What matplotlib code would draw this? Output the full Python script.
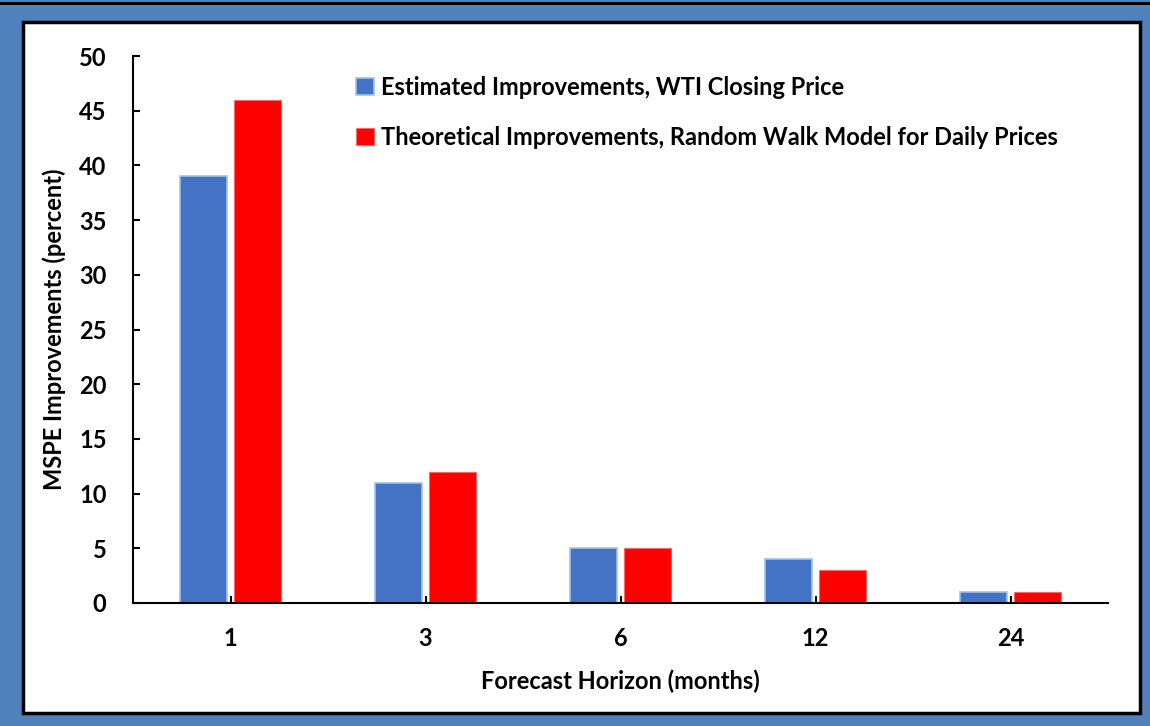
import numpy as np
import matplotlib.pyplot as plt
from matplotlib.patches import Rectangle

horizons = ["1", "3", "6", "12", "24"]
estimated = [39, 11, 5, 4, 1]
theoretical = [46, 12, 5, 3, 1]
labels = ["Estimated Improvements, WTI Closing Price",
          "Theoretical Improvements, Random Walk Model for Daily Prices"]

plt.rcParams['font.family'] = ['Lato', 'DejaVu Sans']
plt.rcParams['font.weight'] = 'bold'

fig = plt.figure(figsize=(11.5, 7.26), dpi=100)
fig.patch.set_facecolor('#4F81BD')

W, H = 1150, 726
# top black line of the frame
fig.patches.append(Rectangle((0, 1 - 5 / H), 1, 3 / H, transform=fig.transFigure,
                             facecolor='black', edgecolor='none', zorder=0))
# white inner panel
fig.patches.append(Rectangle((23 / W, 1 - 713 / H), (1140 - 23) / W, (713 - 22) / H,
                             transform=fig.transFigure, facecolor='white',
                             edgecolor='black', linewidth=2.5, zorder=0))

ax = fig.add_axes([133 / W, 1 - 603 / H, (1108 - 133) / W, (603 - 56) / H])
ax.set_zorder(2)
ax.patch.set_alpha(0)
x = np.arange(len(horizons))
w = 0.24
ax.bar(x - 0.14, estimated, w, color='#4472C4', edgecolor='#9DC3E6', linewidth=1.2,
       label=labels[0])
ax.bar(x + 0.14, theoretical, w, color='#FF0000', edgecolor='#FF6666', linewidth=0.8,
       label=labels[1])

ax.set_xlim(-0.5, len(horizons) - 0.5)
ax.set_ylim(0, 50)
ax.set_yticks(range(0, 51, 5))
ax.set_xticks(x)
ax.set_xticklabels(horizons)
ax.tick_params(axis='both', direction='in', labelsize=17, width=1.5, length=5)
ax.tick_params(axis='y', pad=19)
ax.tick_params(axis='x', pad=17)
for lab in ax.get_xticklabels() + ax.get_yticklabels():
    lab.set_fontweight('bold')
for s in ['top', 'right']:
    ax.spines[s].set_visible(False)
for s in ['left', 'bottom']:
    ax.spines[s].set_linewidth(1.5)

ax.set_xlabel("Forecast Horizon (months)", fontsize=17, fontweight='bold', labelpad=14)
ax.set_ylabel("MSPE Improvements (percent)", fontsize=17, fontweight='bold', labelpad=9)

leg = ax.legend(loc='upper left', bbox_to_anchor=(0.207, 1.003), frameon=False,
                handlelength=0.75, handleheight=0.75, handletextpad=0.3,
                labelspacing=1.15, prop={'weight': 'bold', 'size': 17})

fig.savefig('out.png', dpi=100, facecolor=fig.get_facecolor())
